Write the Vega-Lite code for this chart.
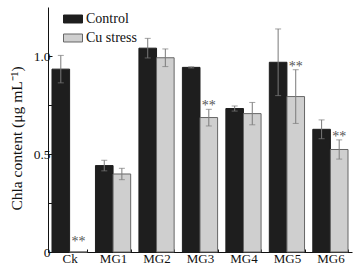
{
  "$schema": "https://vega.github.io/schema/vega-lite/v6.json",
  "width": 304,
  "height": 245,
  "autosize": {"type": "none"},
  "padding": {"left": 48, "top": 7, "right": 10, "bottom": 20},
  "background": "white",
  "config": {
    "view": {"stroke": null},
    "font": "Liberation Serif",
    "axis": {"labelFont": "Liberation Serif", "titleFont": "Liberation Serif", "domainColor": "#111", "tickColor": "#111", "labelColor": "#111", "titleColor": "#111", "grid": false}
  },
  "data": {
    "values": [
      {"group": "Ck", "treatment": "Control", "value": 0.933, "low": 0.863, "high": 1.003, "sig": ""},
      {"group": "Ck", "treatment": "Cu stress", "value": 0, "low": 0, "high": 0, "sig": "**"},
      {"group": "MG1", "treatment": "Control", "value": 0.441, "low": 0.414, "high": 0.468, "sig": ""},
      {"group": "MG1", "treatment": "Cu stress", "value": 0.398, "low": 0.369, "high": 0.427, "sig": ""},
      {"group": "MG2", "treatment": "Control", "value": 1.04, "low": 0.99, "high": 1.09, "sig": ""},
      {"group": "MG2", "treatment": "Cu stress", "value": 0.991, "low": 0.946, "high": 1.036, "sig": ""},
      {"group": "MG3", "treatment": "Control", "value": 0.942, "low": 0.939, "high": 0.945, "sig": ""},
      {"group": "MG3", "treatment": "Cu stress", "value": 0.686, "low": 0.643, "high": 0.728, "sig": "**"},
      {"group": "MG4", "treatment": "Control", "value": 0.732, "low": 0.719, "high": 0.745, "sig": ""},
      {"group": "MG4", "treatment": "Cu stress", "value": 0.706, "low": 0.649, "high": 0.763, "sig": ""},
      {"group": "MG5", "treatment": "Control", "value": 0.968, "low": 0.798, "high": 1.138, "sig": ""},
      {"group": "MG5", "treatment": "Cu stress", "value": 0.793, "low": 0.656, "high": 0.93, "sig": "**"},
      {"group": "MG6", "treatment": "Control", "value": 0.626, "low": 0.578, "high": 0.674, "sig": ""},
      {"group": "MG6", "treatment": "Cu stress", "value": 0.523, "low": 0.474, "high": 0.572, "sig": "**"}
    ]
  },
  "encoding": {
    "x": {
      "field": "group", "type": "nominal", "sort": null,
      "scale": {"paddingInner": 0.19, "paddingOuter": 0.092},
      "axis": {"title": null, "labelAngle": 0, "labelFontSize": 13, "labelPadding": 3, "tickBand": "extent", "tickSize": -3, "domainWidth": 1}
    },
    "xOffset": {"field": "treatment", "type": "nominal", "scale": {"domain": ["Control", "Cu stress"], "paddingInner": 0, "paddingOuter": 0}}
  },
  "layer": [
    {
      "mark": {"type": "bar", "strokeWidth": 1},
      "encoding": {
        "y": {
          "field": "value", "type": "quantitative",
          "scale": {"domain": [0, 1.25], "nice": false},
          "axis": {
            "title": "Chla content (μg mL⁻¹)", "titleFontSize": 15.5, "titleFontWeight": "normal", "titleX": -24, "titleY": 131,
            "values": [0, 0.25, 0.5, 0.75, 1.0],
            "labelExpr": "datum.value == 0 ? '0' : (datum.value == 0.5 || datum.value == 1) ? format(datum.value, '.1f') : ''",
            "labelFontSize": 13.5, "labelPadding": 2, "tickSize": -4
          }
        },
        "fill": {
          "field": "treatment", "type": "nominal",
          "scale": {"domain": ["Control", "Cu stress"], "range": ["#1e1e1e", "#cfcfcf"]},
          "legend": {
            "title": null, "orient": "none", "legendX": 15, "legendY": 2,
            "symbolType": "M-1,-0.42H1V0.42H-1Z", "symbolSize": 361, "symbolStrokeWidth": 1,
            "labelFont": "Liberation Serif", "labelFontSize": 14, "labelColor": "#111", "labelOffset": 3, "rowPadding": 2
          }
        },
        "stroke": {
          "field": "treatment", "type": "nominal",
          "scale": {"domain": ["Control", "Cu stress"], "range": ["#1e1e1e", "#666666"]},
          "legend": null
        }
      }
    },
    {
      "transform": [{"filter": "datum.high > 0"}],
      "mark": {"type": "rule", "color": "#7a7a7a", "strokeWidth": 1},
      "encoding": {
        "y": {"field": "low", "type": "quantitative"},
        "y2": {"field": "high"}
      }
    },
    {
      "transform": [{"filter": "datum.high > 0"}],
      "mark": {"type": "tick", "color": "#7a7a7a", "size": 6, "thickness": 1, "orient": "horizontal"},
      "encoding": {"y": {"field": "high", "type": "quantitative"}}
    },
    {
      "transform": [{"filter": "datum.high > 0"}],
      "mark": {"type": "tick", "color": "#7a7a7a", "size": 6, "thickness": 1, "orient": "horizontal"},
      "encoding": {"y": {"field": "low", "type": "quantitative"}}
    },
    {
      "transform": [{"filter": "datum.sig != '' && datum.high > 0"}],
      "mark": {"type": "text", "font": "Liberation Serif", "fontSize": 14, "color": "#555", "baseline": "alphabetic", "dy": 1},
      "encoding": {"y": {"field": "high", "type": "quantitative"}, "text": {"field": "sig"}}
    },
    {
      "transform": [{"filter": "datum.sig != '' && datum.high == 0"}],
      "mark": {"type": "text", "font": "Liberation Serif", "fontSize": 14, "color": "#555", "baseline": "alphabetic", "dy": -6},
      "encoding": {"y": {"field": "high", "type": "quantitative"}, "text": {"field": "sig"}}
    }
  ]
}
